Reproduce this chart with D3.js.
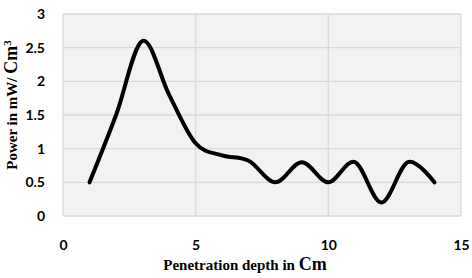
<!DOCTYPE html>
<html>
<head>
<meta charset="utf-8">
<script src="https://cdn.jsdelivr.net/npm/d3@7"></script>
<style>
  body { margin: 0; background: #fff; }
  .tick text { font-family: Lato, "Open Sans", sans-serif; font-weight: bold; font-size: 14px; fill: #000; }
  .title { font-family: "Liberation Serif", "Times New Roman", serif; font-weight: bold; font-size: 15px; fill: #000; }
</style>
</head>
<body>
<svg width="472" height="278"></svg>
<script>
const width = 472, height = 278;
var depth = [1, 2, 3, 4, 5, 6, 7, 8, 9, 10, 11, 12, 13, 14];
var power = [0.5, 1.5, 2.6, 1.8, 1.08, 0.9, 0.82, 0.5, 0.8, 0.5, 0.8, 0.2, 0.8, 0.5];
var xTicks = [0, 5, 10, 15];
var yTicks = [0, 0.5, 1, 1.5, 2, 2.5, 3];

var margin = {left: 63, right: 11, top: 14, bottom: 62};

var xScale = d3.scaleLinear().domain([0, 15]).range([margin.left, width - margin.right]);
var yScale = d3.scaleLinear().domain([0, 3]).range([height - margin.bottom, margin.top]);

var svg = d3.select("svg");

// plot background
svg.append("rect")
  .attr("x", xScale(0)).attr("y", yScale(3))
  .attr("width", xScale(15) - xScale(0))
  .attr("height", yScale(0) - yScale(3))
  .attr("fill", "#f2f2f2");

// grid
svg.append("g")
  .selectAll("line.h")
  .data(yTicks)
  .enter().append("line")
  .attr("x1", xScale(0)).attr("x2", xScale(15))
  .attr("y1", d => yScale(d)).attr("y2", d => yScale(d))
  .attr("stroke", "#d9d9d9").attr("stroke-width", 1.3);

svg.append("g")
  .selectAll("line.v")
  .data(xTicks)
  .enter().append("line")
  .attr("y1", yScale(0)).attr("y2", yScale(3))
  .attr("x1", d => xScale(d)).attr("x2", d => xScale(d))
  .attr("stroke", "#d9d9d9").attr("stroke-width", 1.3);

// axes (labels only)
var xAxis = svg.append("g")
  .attr("transform", `translate(0,${yScale(0) + 21})`)
  .call(d3.axisBottom(xScale).tickValues(xTicks).tickSize(0).tickFormat(d3.format("")));
xAxis.select(".domain").remove();

var yAxis = svg.append("g")
  .attr("transform", `translate(${xScale(0) - 15},0)`)
  .call(d3.axisLeft(yScale).tickValues(yTicks).tickSize(0).tickFormat(d => d));
yAxis.select(".domain").remove();

// line
var lineGenerator = d3.line()
  .x((d, i) => xScale(depth[i]))
  .y(d => yScale(d))
  .curve(d3.curveCardinal.tension(0));

svg.append("path")
  .datum(power)
  .attr("d", lineGenerator)
  .attr("fill", "none")
  .attr("stroke", "#000")
  .attr("stroke-width", 4)
  .attr("stroke-linecap", "round")
  .attr("stroke-linejoin", "round");

// titles
var xt = svg.append("text")
  .attr("class", "title")
  .attr("x", 245).attr("y", 270)
  .attr("text-anchor", "middle");
xt.append("tspan").text("Penetration depth in ");
xt.append("tspan").attr("font-size", "18px").text("Cm");

var yt = svg.append("text")
  .attr("class", "title")
  .attr("transform", "translate(17,105) rotate(-90)")
  .attr("text-anchor", "middle");
yt.append("tspan").text("Power in mW/ ");
yt.append("tspan").attr("font-size", "18px").text("Cm");
yt.append("tspan").attr("baseline-shift", "super").attr("font-size", "11px").text("3");
</script>
</body>
</html>
